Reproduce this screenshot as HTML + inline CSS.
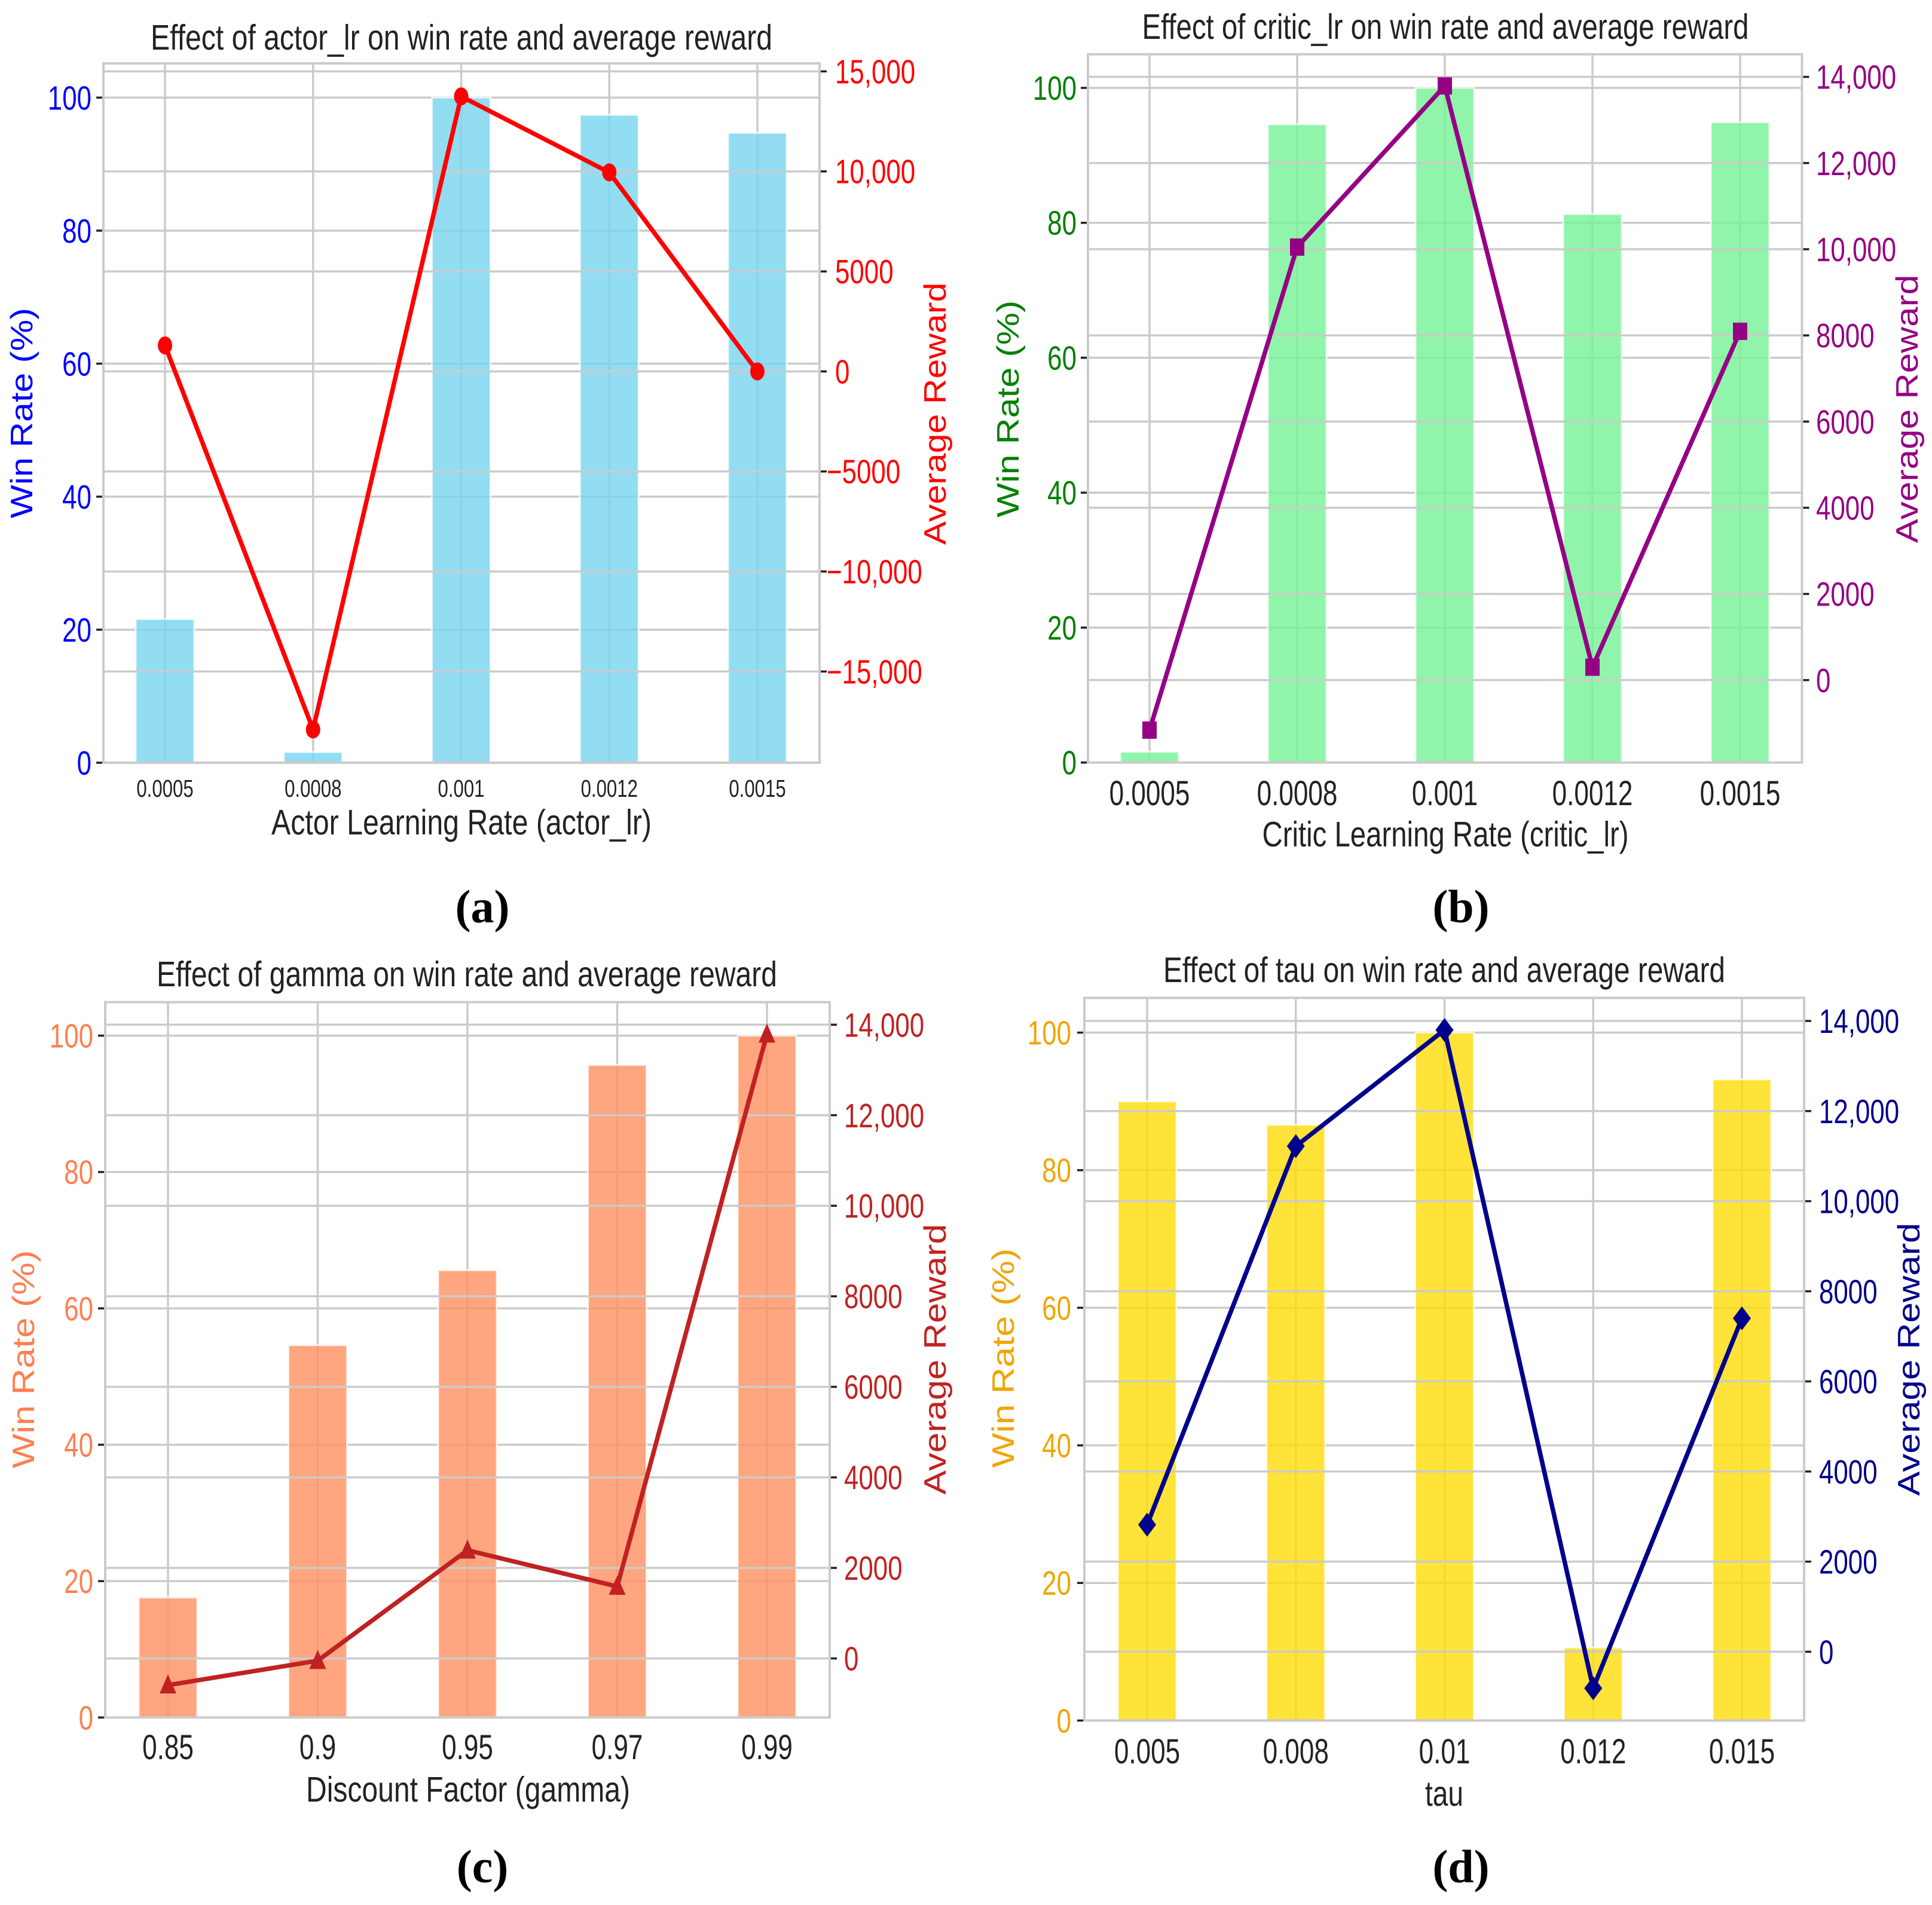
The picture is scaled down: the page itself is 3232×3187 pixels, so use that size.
<!DOCTYPE html>
<html lang="en">
<head>
<meta charset="utf-8">
<title>Effect of hyperparameters on win rate and average reward</title>
<style>
html,body{margin:0;padding:0;background:#fff;}
svg{display:block;}
text{font-family:"Liberation Sans",Arial,sans-serif;}
</style>
</head>
<body>
<svg id="figure" xmlns="http://www.w3.org/2000/svg" width="3232" height="3187" viewBox="0 0 3232 3187"></svg>
<script>
/* ---------- data: panel (a) actor_lr ---------- */
const actorCategories = ['0.0005','0.0008','0.001','0.0012','0.0015'];
const actorWinRate = [21.6,1.6,100,97.4,94.7];
const actorReward = [1300,-17900,13750,9950,0];
const actorLeftTicks = [0,20,40,60,80,100];
const actorRightTicks = [-15000,-10000,-5000,0,5000,10000,15000];

/* ---------- data: panel (b) critic_lr ---------- */
const criticCategories = ['0.0005','0.0008','0.001','0.0012','0.0015'];
const criticWinRate = [1.6,94.6,100,81.3,94.9];
const criticReward = [-1160,10050,13790,300,8095];
const criticLeftTicks = [0,20,40,60,80,100];
const criticRightTicks = [0,2000,4000,6000,8000,10000,12000,14000];

/* ---------- data: panel (c) gamma ---------- */
const gammaCategories = ['0.85','0.9','0.95','0.97','0.99'];
const gammaWinRate = [17.6,54.6,65.6,95.7,100];
const gammaReward = [-590,-50,2390,1590,13790];
const gammaLeftTicks = [0,20,40,60,80,100];
const gammaRightTicks = [0,2000,4000,6000,8000,10000,12000,14000];

/* ---------- data: panel (d) tau ---------- */
const tauCategories = ['0.005','0.008','0.01','0.012','0.015'];
const tauWinRate = [90,86.6,100,10.6,93.2];
const tauReward = [2820,11220,13800,-810,7400];
const tauLeftTicks = [0,20,40,60,80,100];
const tauRightTicks = [0,2000,4000,6000,8000,10000,12000,14000];

/* ---------- layout (pixel frames, not data) ---------- */
const panels = [
 {cats:actorCategories,win:actorWinRate,rew:actorReward,lt:actorLeftTicks,rt:actorRightTicks,
  l:173,r:1371,t:106,b:1276,y100:163.3,rRefV:15000,rRefY:119.4,r0Y:621.4,x0:276,x4:1267,barW:98,
  barFill:'#77D4ED',leftCol:'#0000FF',rightCol:'#FF0000',marker:'circle',
  title:'Effect of actor_lr on win rate and average reward',titleX:772,titleY:83,titleLen:1040,
  xlabel:'Actor Learning Rate (actor_lr)',xlX:772,xlY:1396,xlLen:636,
  xtY:1333,xtSize:41,ltX:153,rtX:1397,llX:54,llY:691,llLen:352,rlX:1582,rlY:692,rlLen:439,
  tag:'(a)',tagX:807,tagY:1543},
 {cats:criticCategories,win:criticWinRate,rew:criticReward,lt:criticLeftTicks,rt:criticRightTicks,
  l:1820,r:3014.5,t:90.8,b:1275.7,y100:147,rRefV:14000,rRefY:128.6,r0Y:1137.8,x0:1923,x4:2911,barW:98,
  barFill:'#74F295',leftCol:'#008000',rightCol:'#950085',marker:'square',
  title:'Effect of critic_lr on win rate and average reward',titleX:2418,titleY:65,titleLen:1015,
  xlabel:'Critic Learning Rate (critic_lr)',xlX:2418,xlY:1416,xlLen:613,
  xtY:1347,xtSize:58,ltX:1801,rtX:3038,llX:1704,llY:684,llLen:363,rlX:3208,rlY:684,rlLen:449,
  tag:'(b)',tagX:2444,tagY:1543},
 {cats:gammaCategories,win:gammaWinRate,rew:gammaReward,lt:gammaLeftTicks,rt:gammaRightTicks,
  l:176,r:1388,t:1676.6,b:2873.3,y100:1732.6,rRefV:14000,rRefY:1714.3,r0Y:2774.5,x0:281,x4:1283,barW:98,
  barFill:'#FF9060',leftCol:'#FF7F50',rightCol:'#C02222',marker:'triangle',
  title:'Effect of gamma on win rate and average reward',titleX:781,titleY:1650,titleLen:1038,
  xlabel:'Discount Factor (gamma)',xlX:783,xlY:3014,xlLen:542,
  xtY:2943,xtSize:58,ltX:156,rtX:1412,llX:57,llY:2274,llLen:365,rlX:1582,rlY:2274,rlLen:453,
  tag:'(c)',tagX:807,tagY:3149},
 {cats:tauCategories,win:tauWinRate,rew:tauReward,lt:tauLeftTicks,rt:tauRightTicks,
  l:1814,r:3018,t:1669.4,b:2878.4,y100:1727.5,rRefV:14000,rRefY:1708,r0Y:2763.3,x0:1919,x4:2914,barW:98,
  barFill:'#FFDC06',leftCol:'#F0A500',rightCol:'#00008B',marker:'diamond',
  title:'Effect of tau on win rate and average reward',titleX:2416,titleY:1643,titleLen:940,
  xlabel:'tau',xlX:2416,xlY:3021,xlLen:64,
  xtY:2950,xtSize:58,ltX:1792,rtX:3043,llX:1696,llY:2272,llLen:367,rlX:3211,rlY:2274,rlLen:457,
  tag:'(d)',tagX:2444,tagY:3149}
];

const NS = 'http://www.w3.org/2000/svg';
const GRID = '#CBCBCB';
const INK = '#222222';
const root = document.getElementById('figure');

function mk(tag, attrs, parent){
  const n = document.createElementNS(NS, tag);
  for (const k in attrs) n.setAttribute(k, attrs[k]);
  parent.appendChild(n);
  return n;
}
function txt(parent, str, x, y, o){
  const sx = o.sx === undefined ? 1 : o.sx;
  const sy = o.sy === undefined ? 1 : o.sy;
  const rot = o.rot ? ' rotate(' + o.rot + ')' : '';
  const a = {
    'font-size': o.size,
    fill: o.fill,
    'text-anchor': o.anchor || 'middle',
    transform: 'translate(' + x + ',' + y + ')' + rot + ' scale(' + sx + ',' + sy + ')'
  };
  if (o.len) { a.textLength = o.len; a.lengthAdjust = 'spacingAndGlyphs'; }
  if (o.weight) a['font-weight'] = o.weight;
  if (o.family) a.style = 'font-family:' + o.family;
  const n = mk('text', a, parent);
  n.textContent = str;
  return n;
}
function fmtReward(v){
  const abs = Math.abs(v);
  const s = abs >= 10000 ? abs.toString().replace(/\B(?=(\d{3})+$)/g, ',') : String(abs);
  return (v < 0 ? '\u2212' : '') + s;
}

panels.forEach(function(p){
  const xScale = function(i){ return p.x0 + (p.x4 - p.x0) * i / (p.cats.length - 1); };
  const winY = function(v){ return p.b + (p.y100 - p.b) * v / 100; };
  const rewardY = function(v){ return p.r0Y + (p.rRefY - p.r0Y) * v / p.rRefV; };

  const g = mk('g', {}, root);
  
  

  /* left-axis grid (behind bars) */
  p.lt.forEach(function(v){
    const n = mk('line', {x1:p.l,x2:p.r,y1:winY(v),y2:winY(v),stroke:GRID,'stroke-width':3.5}, g);
    
    
  });
  p.cats.forEach(function(c,i){
    const n = mk('line', {x1:xScale(i),x2:xScale(i),y1:p.t,y2:p.b,stroke:GRID,'stroke-width':3.5}, g);
    
    
  });

  /* bars */
  p.win.forEach(function(v,i){
    const n = mk('rect', {x:xScale(i)-p.barW/2,y:winY(v),width:p.barW,height:p.b-winY(v),
      fill:p.barFill,'fill-opacity':0.8,stroke:'#FFFFFF','stroke-opacity':0.75,'stroke-width':3}, g);
    
    
  });

  /* right-axis grid (over bars) */
  p.rt.forEach(function(v){
    const n = mk('line', {x1:p.l,x2:p.r,y1:rewardY(v),y2:rewardY(v),stroke:GRID,'stroke-width':3.5}, g);
    
    
  });

  /* frame */
  const frame = mk('rect', {x:p.l,y:p.t,width:p.r-p.l,height:p.b-p.t,fill:'none',stroke:GRID,'stroke-width':4}, g);
  
  

  /* reward line */
  const pts = p.rew.map(function(v,i){ return xScale(i) + ',' + rewardY(v); }).join(' ');
  const line = mk('polyline', {points:pts,fill:'none',stroke:p.rightCol,'stroke-width':7.5,'stroke-linejoin':'round'}, g);
  
  

  /* reward markers */
  p.rew.forEach(function(v,i){
    const x = xScale(i), y = rewardY(v);
    let m;
    if (p.marker === 'circle') {
      m = mk('ellipse', {cx:x,cy:y,rx:12,ry:15,fill:p.rightCol}, g);
    } else if (p.marker === 'square') {
      m = mk('rect', {x:x-12,y:y-14.5,width:24,height:29,fill:p.rightCol}, g);
    } else if (p.marker === 'triangle') {
      m = mk('polygon', {points:(x)+','+(y-18)+' '+(x+14)+','+(y+14)+' '+(x-14)+','+(y+14),fill:p.rightCol}, g);
    } else {
      m = mk('polygon', {points:(x)+','+(y-20)+' '+(x+15)+','+(y)+' '+(x)+','+(y+20)+' '+(x-15)+','+(y),fill:p.rightCol}, g);
    }
    
    
  });

  /* left ticks */
  p.lt.forEach(function(v){
    const y = winY(v);
    const t = mk('line', {x1:p.l-12,x2:p.l-2,y1:y,y2:y,stroke:INK,'stroke-width':3.5}, g);
    
    
    const n = txt(g, String(v), p.ltX, y + 20, {size:57,sx:0.77,anchor:'end',fill:p.leftCol});
    
    
  });

  /* right ticks */
  p.rt.forEach(function(v){
    const y = rewardY(v);
    const t = mk('line', {x1:p.r+2,x2:p.r+12,y1:y,y2:y,stroke:INK,'stroke-width':3.5}, g);
    
    
    const n = txt(g, fmtReward(v), v < 0 ? p.rtX - 14 : p.rtX, y + 20, {size:57,sx:0.77,anchor:'start',fill:p.rightCol});
    
    
  });

  /* x tick labels */
  p.cats.forEach(function(c,i){
    const n = txt(g, c, xScale(i), p.xtY, {size:p.xtSize,sx:0.76,fill:INK});
    
    
  });

  /* titles and axis labels */
  const title = txt(g, p.title, p.titleX, p.titleY, {size:59,fill:INK,len:p.titleLen});
  
  

  const xl = txt(g, p.xlabel, p.xlX, p.xlY, {size:59,fill:INK,len:p.xlLen});
  
  

  const ll = txt(g, 'Win Rate (%)', p.llX, p.llY, {size:59,sy:0.88,rot:-90,fill:p.leftCol,len:p.llLen});
  
  

  const rl = txt(g, 'Average Reward', p.rlX, p.rlY, {size:59,sy:0.88,rot:-90,fill:p.rightCol,len:p.rlLen});
  
  

  const tag = txt(g, p.tag, p.tagX, p.tagY, {size:78,fill:'#000000',weight:'bold',family:'"Liberation Serif",serif'});
  
  
});
</script>
</body>
</html>
